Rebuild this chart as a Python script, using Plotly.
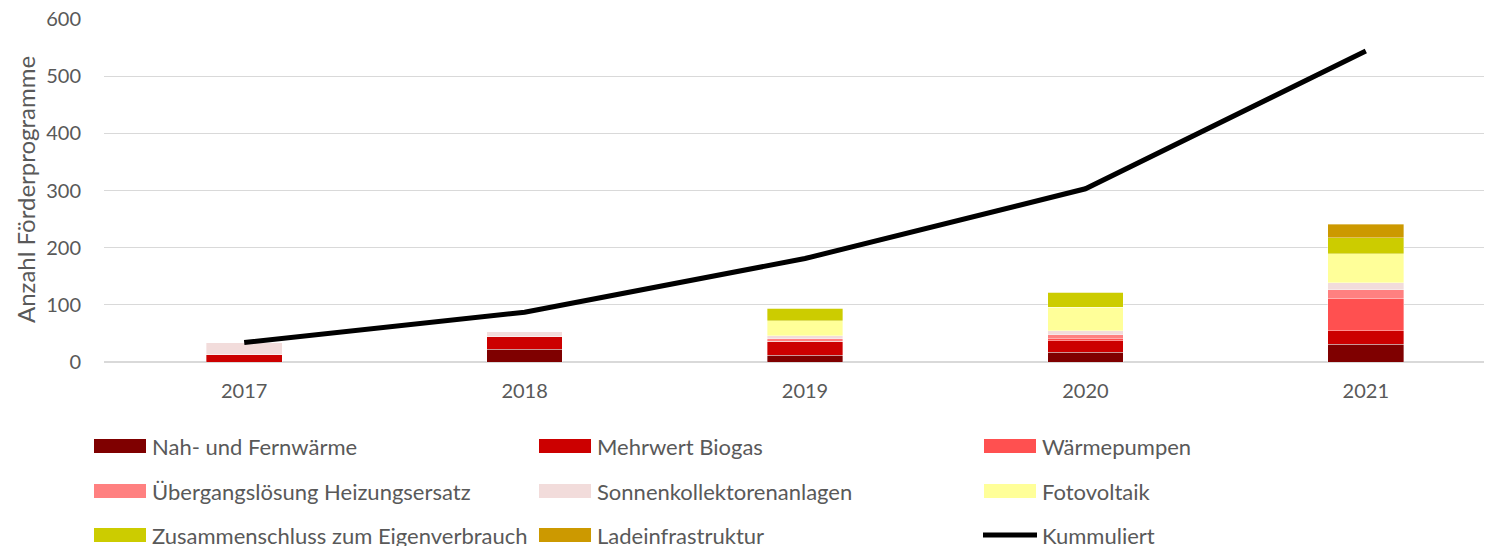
import plotly.graph_objects as go

OFF = 8  # browser page margin
W, H = 1492 - OFF, 546 - OFF

years = ["2017", "2018", "2019", "2020", "2021"]
nah_fern = [0, 22, 12, 17, 31]
biogas = [14, 23, 24, 20, 24]
waermepumpen = [0, 0, 0, 4, 56]
uebergang = [0, 0, 5, 7, 15]
sonnenkoll = [20, 8, 5, 7, 13]
fotovoltaik = [0, 0, 26, 41, 50]
zusammenschluss = [0, 0, 22, 26, 28]
ladeinfra = [0, 0, 0, 0, 24]
kummuliert = [34, 87, 181, 303, 544]

y_ticks = [0, 100, 200, 300, 400, 500, 600]

series_names = ["Nah- und Fernwärme", "Mehrwert Biogas", "Wärmepumpen",
                "Übergangslösung Heizungsersatz", "Sonnenkollektorenanlagen", "Fotovoltaik",
                "Zusammenschluss zum Eigenverbrauch", "Ladeinfrastruktur"]
series_values = [nah_fern, biogas, waermepumpen, uebergang, sonnenkoll, fotovoltaik,
                 zusammenschluss, ladeinfra]
series_colors = ["#7F0000", "#CC0000", "#FF5050", "#FF8080", "#F2DCDB", "#FFFF99",
                 "#CCCC00", "#CC9900"]
line_name = "Kummuliert"

FONT = "Lato"
TXT = "#595959"


def px(x):
    return (x - OFF) / W


def py(y):
    return 1 - (y - OFF) / H


fig = go.Figure()
for name, vals, col in zip(series_names, series_values, series_colors):
    fig.add_trace(go.Bar(x=years, y=vals, name=name, marker_color=col,
                         marker_line_color="rgba(255,255,255,0.6)", marker_line_width=0.6,
                         width=0.27, showlegend=False))
fig.add_trace(go.Scatter(x=years, y=kummuliert, name=line_name, mode="lines",
                         line=dict(color="black", width=5), showlegend=False))

plot_left, plot_right, plot_top, plot_bottom = 104, 1492, 19, 362
fig.update_layout(
    width=W, height=H,
    margin=dict(l=0, r=0, t=0, b=0),
    barmode="stack",
    paper_bgcolor="white", plot_bgcolor="white",
    font=dict(family=FONT, size=20, color=TXT),
    xaxis=dict(domain=[px(plot_left), 1], range=[-0.5, 4.45], showgrid=False,
               showline=False, ticks="", automargin=False, ticklabelstandoff=15,
               ticklabeloverflow="allow", tickfont=dict(size=20, color=TXT)),
    yaxis=dict(domain=[py(plot_bottom), py(plot_top)], range=[0, 600],
               tickvals=y_ticks, showgrid=True, gridcolor="#D9D9D9", gridwidth=1.3,
               zeroline=True, zerolinecolor="#D9D9D9", zerolinewidth=1.5,
               showline=False, ticks="", automargin=False, ticklabelstandoff=22,
               ticklabeloverflow="allow", tickfont=dict(size=20, color=TXT)),
)

fig.add_annotation(text="Anzahl Förderprogramme", textangle=-90, xref="paper", yref="paper",
                   x=px(25), y=py(190), xanchor="center", yanchor="middle", showarrow=False,
                   font=dict(size=24, color=TXT, family=FONT))

# manual legend (3 columns)
col_x = [94, 539, 984]
row_y = [446, 491, 535]
legend_items = list(zip(series_names, series_colors)) + [(line_name, None)]
for i, (name, col) in enumerate(legend_items):
    cx = col_x[i % 3]
    ry = row_y[i // 3]
    if col is None:
        fig.add_shape(type="line", xref="paper", yref="paper",
                      x0=px(cx - 1), x1=px(cx + 53), y0=py(ry), y1=py(ry),
                      line=dict(color="black", width=5))
    else:
        fig.add_shape(type="rect", xref="paper", yref="paper",
                      x0=px(cx), x1=px(cx + 52), y0=py(ry + 7), y1=py(ry - 7),
                      fillcolor=col, line=dict(width=0))
    fig.add_annotation(text=name, xref="paper", yref="paper", x=px(cx + 56), y=py(ry),
                       xanchor="left", yanchor="middle", showarrow=False,
                       font=dict(size=22, color=TXT, family=FONT))

fig.write_html("out.html")
